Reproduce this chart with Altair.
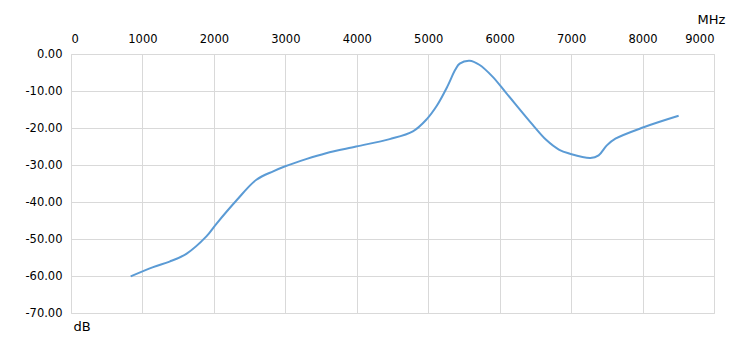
import altair as alt
import pandas as pd

freq_mhz = [835, 1150, 1380, 1615, 1895, 2035, 2315, 2595, 2830, 2990,
            3290, 3570, 3990, 4460, 4785, 4980, 5120, 5260, 5380, 5440, 5580, 5715,
            5900, 6090, 6460, 6650, 6835, 6975, 7270, 7385, 7500, 7620, 8015, 8505]
gain_db = [-60.1, -57.6, -56.1, -54.0, -49.3, -45.9, -39.6, -34.0, -31.7, -30.4,
           -28.4, -26.8, -25.0, -23.0, -20.9, -17.6, -14.0, -9.1, -4.2, -2.6, -1.8, -2.9,
           -6.1, -10.5, -19.1, -23.2, -25.9, -26.9, -28.1, -27.4, -24.7, -22.9, -19.8, -16.7]
x_ticks = [0, 1000, 2000, 3000, 4000, 5000, 6000, 7000, 8000, 9000]
y_ticks = [0, -10, -20, -30, -40, -50, -60, -70]

df = pd.DataFrame({"f": freq_mhz, "g": gain_db})

font = "DejaVu Sans"

chart = alt.Chart(df).mark_line(
    color="#5B9BD5", strokeWidth=2, interpolate="catmull-rom"
).encode(
    x=alt.X("f:Q", scale=alt.Scale(domain=[0, 9000], nice=False),
            axis=alt.Axis(orient="top", values=x_ticks, format="d", ticks=False, domain=False,
                          labelPadding=10, labelFontSize=11.5, labelColor="#000000",
                          labelFont=font, gridColor="#d9d9d9", title="MHz",
                          titleFont=font, titleFontSize=13, titleFontWeight="normal",
                          titleColor="#000000", titleX=640, titleY=-31,
                          titleAlign="center", titleBaseline="alphabetic")),
    y=alt.Y("g:Q", scale=alt.Scale(domain=[-70, 0], nice=False),
            axis=alt.Axis(values=y_ticks, ticks=False, domain=False,
                          labelExpr="datum.value < 0 ? '-' + format(-datum.value, '.2f') : format(datum.value, '.2f')",
                          labelPadding=9, labelFontSize=11.5, labelColor="#000000",
                          labelFont=font, gridColor="#d9d9d9", title="dB",
                          titleFont=font, titleFontSize=13, titleFontWeight="normal",
                          titleColor="#000000", titleAngle=0, titleX=2, titleY=276,
                          titleAlign="left", titleBaseline="alphabetic")),
).properties(
    width=643, height=259,
    autosize=alt.AutoSizeParams(type="none"),
    padding={"left": 71, "top": 54, "right": 24, "bottom": 28},
).configure_view(stroke=None).configure(background="white")

chart.save("out.html", embed_options={"renderer": "svg", "actions": False})
